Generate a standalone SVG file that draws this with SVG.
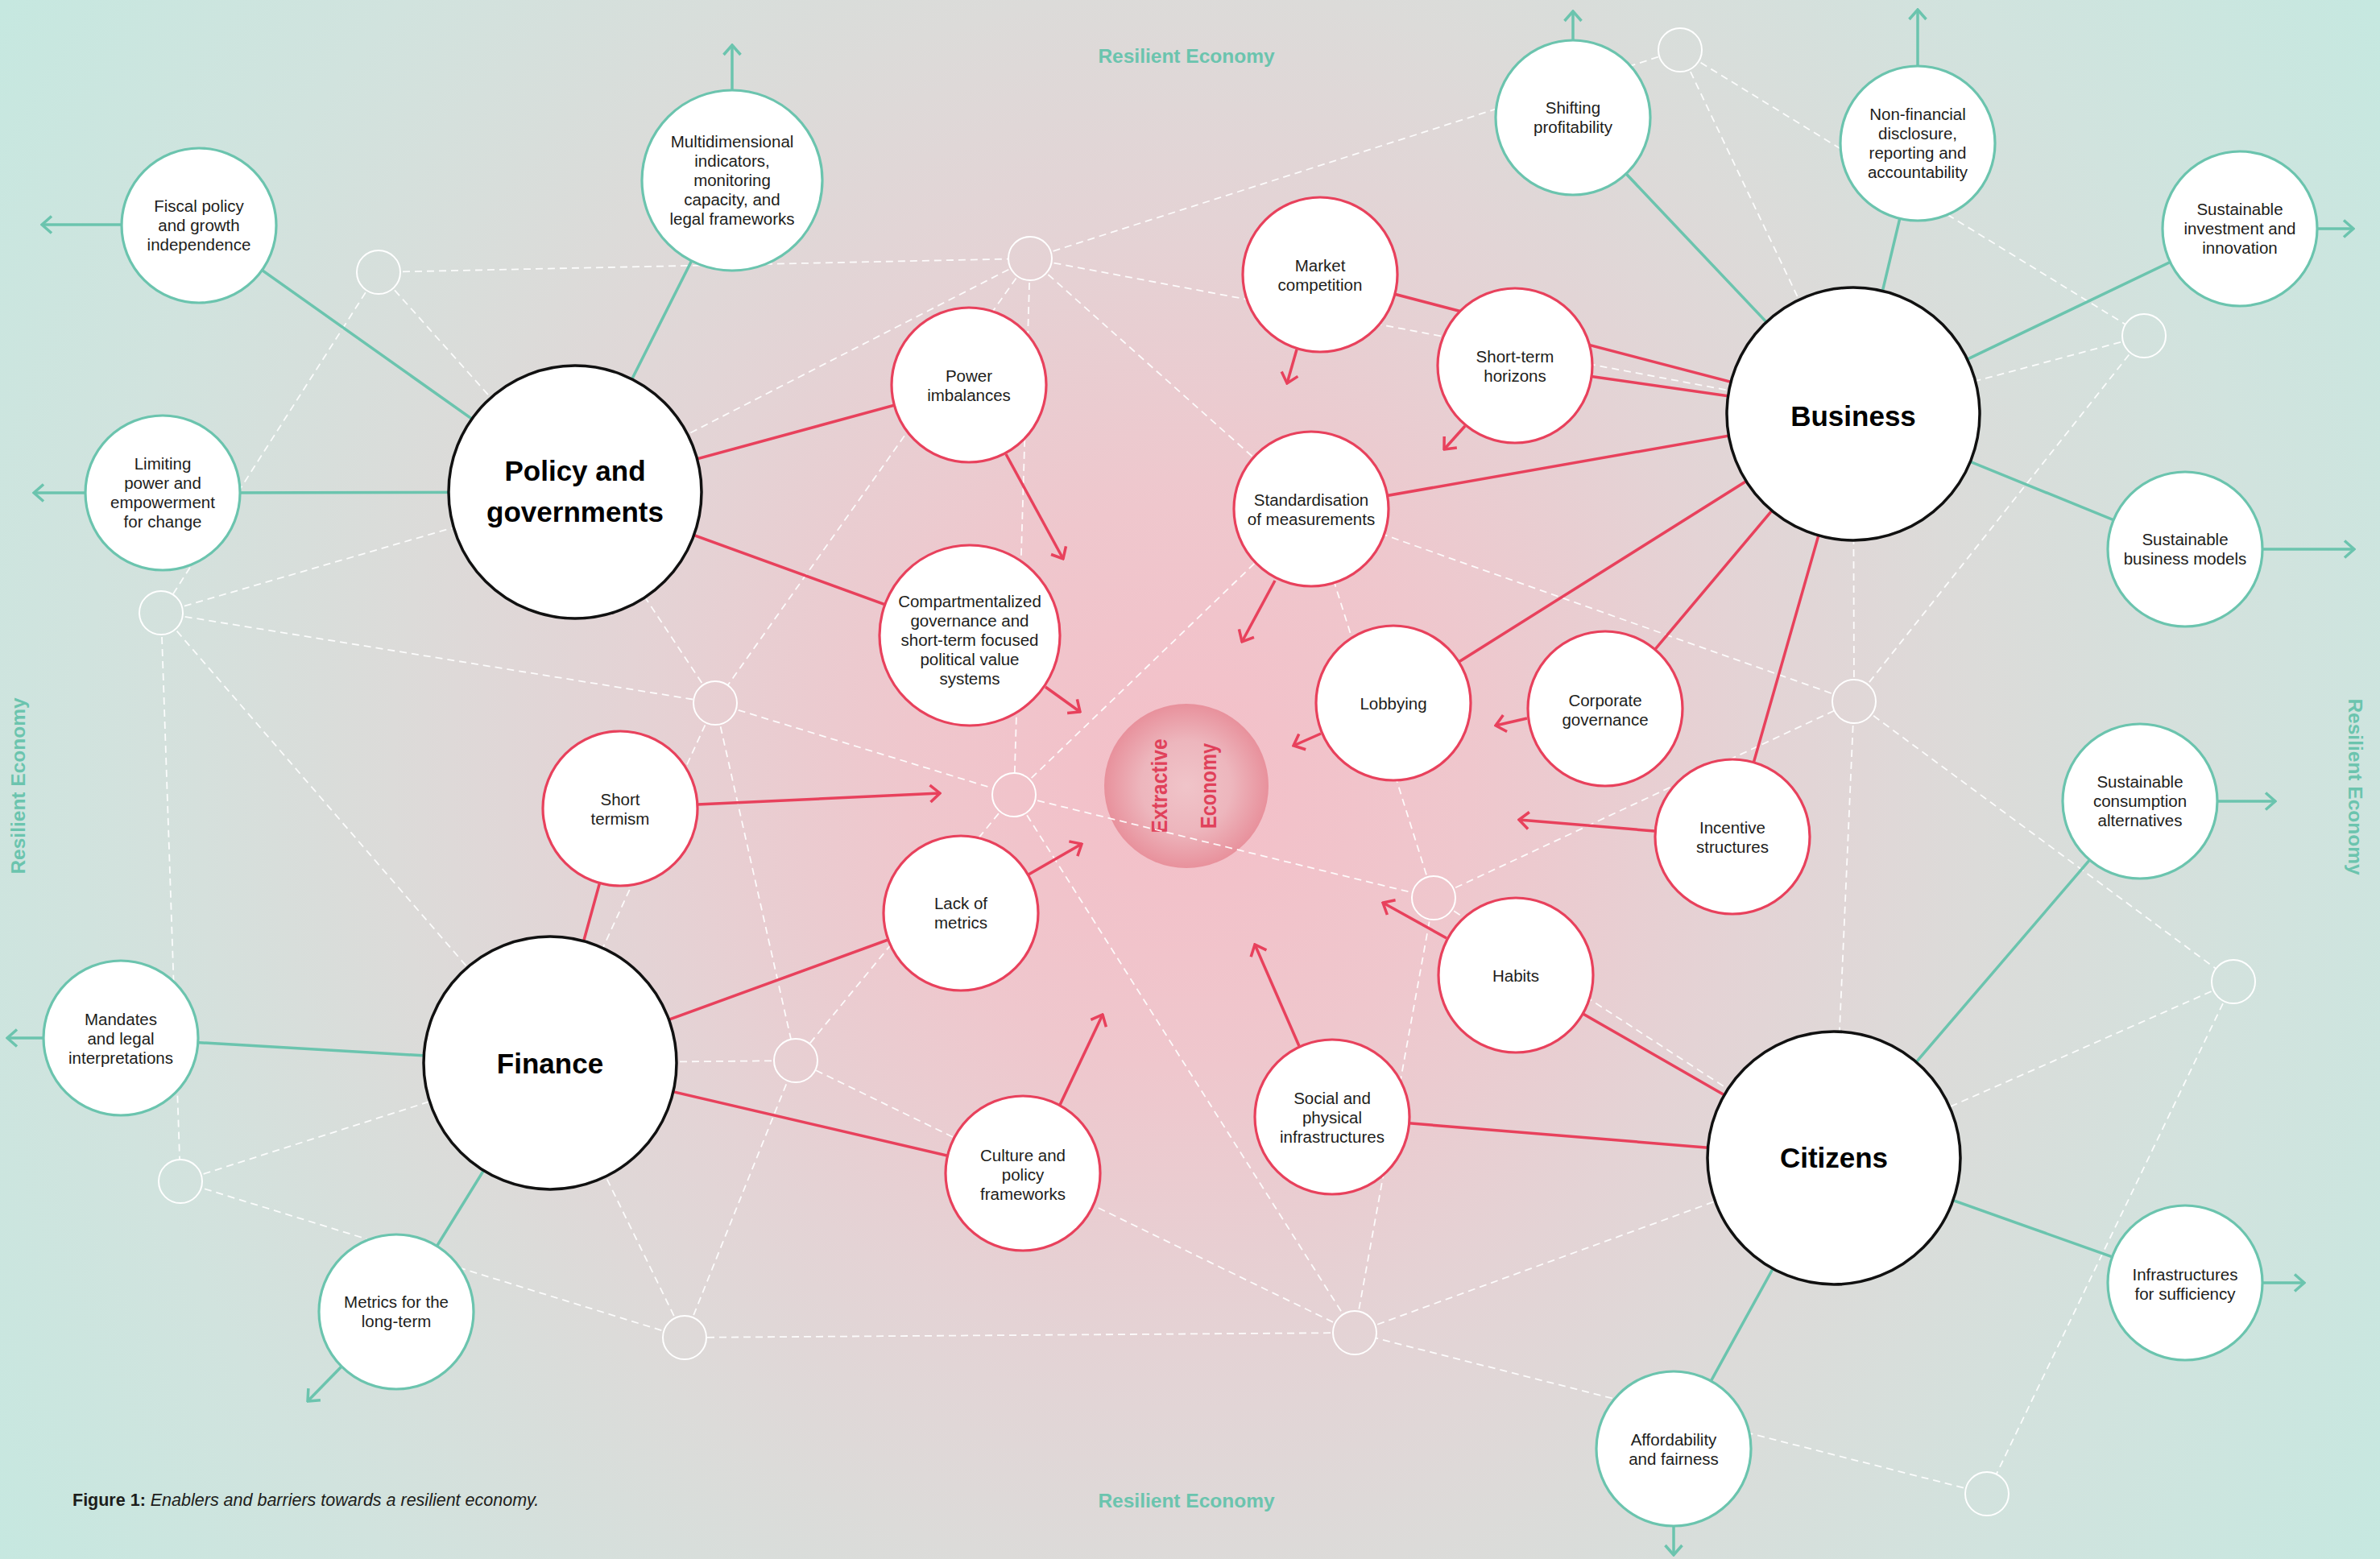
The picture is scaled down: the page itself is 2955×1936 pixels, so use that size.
<svg xmlns="http://www.w3.org/2000/svg" width="2955" height="1936" viewBox="0 0 2955 1936">
<defs>
<radialGradient id="bg" gradientUnits="userSpaceOnUse" cx="1473" cy="976" r="1760">
<stop offset="0" stop-color="#f4bfc8"/>
<stop offset="0.2" stop-color="#efc7cd"/>
<stop offset="0.4" stop-color="#e4d3d5"/>
<stop offset="0.56" stop-color="#dcdbd9"/>
<stop offset="0.78" stop-color="#d1e3de"/>
<stop offset="1" stop-color="#c6e8e0"/>
</radialGradient>
<radialGradient id="ex" cx="0.5" cy="0.5" r="0.5">
<stop offset="0" stop-color="#f0c4c9"/>
<stop offset="0.55" stop-color="#edb6bd"/>
<stop offset="1" stop-color="#e8919c"/>
</radialGradient>
<marker id="arR" viewBox="-15 -13 17 26" refX="0" refY="0" markerWidth="17" markerHeight="26" markerUnits="userSpaceOnUse" orient="auto">
<path d="M-12,-10.5 L0,0 L-12,10.5" fill="none" stroke="#e8415c" stroke-width="3.5"/>
</marker>
<marker id="arT" viewBox="-15 -13 17 26" refX="0" refY="0" markerWidth="17" markerHeight="26" markerUnits="userSpaceOnUse" orient="auto">
<path d="M-12,-10.5 L0,0 L-12,10.5" fill="none" stroke="#6bc4ae" stroke-width="3.5"/>
</marker>
<mask id="jm" maskUnits="userSpaceOnUse" x="0" y="0" width="2955" height="1936">
<rect width="2955" height="1936" fill="#fff"/>
<g fill="#000">
<circle cx="470" cy="338" r="27"/><circle cx="1279" cy="321" r="27"/><circle cx="2086" cy="62" r="27"/>
<circle cx="2662" cy="417" r="27"/><circle cx="200" cy="761" r="27"/><circle cx="888" cy="873" r="27"/>
<circle cx="1259" cy="987" r="27"/><circle cx="2302" cy="871" r="27"/><circle cx="1780" cy="1115" r="27"/>
<circle cx="988" cy="1317" r="27"/><circle cx="2773" cy="1219" r="27"/><circle cx="224" cy="1467" r="27"/>
<circle cx="850" cy="1661" r="27"/><circle cx="1682" cy="1655" r="27"/><circle cx="2467" cy="1855" r="27"/>
</g>
</mask>
<style>
.dash{fill:none;stroke:#ffffff;stroke-width:1.8;stroke-dasharray:9 6;opacity:0.9}
.jn circle{fill:none;stroke:#ffffff;stroke-width:2}
.tl{fill:none;stroke:#6bc4ae;stroke-width:3.5}
.rl{fill:none;stroke:#e8415c;stroke-width:3.5}
.ta{marker-end:url(#arT)}
.ra{marker-end:url(#arR)}
.hub circle{fill:#ffffff;stroke:#111111;stroke-width:3.5}
.en circle{fill:#ffffff;stroke:#6bc4ae;stroke-width:3.2}
.ba circle{fill:#ffffff;stroke:#e8415c;stroke-width:3.2}
text{font-family:"Liberation Sans",Arial,sans-serif;fill:#1d1d1b;text-anchor:middle}
.lb{font-size:20.5px}
.hl{font-size:35px;font-weight:bold;fill:#000000}
.re{font-size:24.5px;font-weight:bold;fill:#6bc4ae}
.xe{font-size:27px;font-weight:bold;fill:#e0415a}
.cap{font-size:21.5px;text-anchor:start}
</style>
</defs>
<rect width="2955" height="1936" fill="url(#bg)"/>

<g id="extractive-economy">
<circle cx="1473" cy="976" r="102" fill="url(#ex)"/>
<text class="xe" transform="translate(1449,976) rotate(-90)" textLength="117" lengthAdjust="spacingAndGlyphs">Extractive</text>
<text class="xe" transform="translate(1510,976) rotate(-90)" textLength="106" lengthAdjust="spacingAndGlyphs">Economy</text>
</g>

<g id="network" mask="url(#jm)">
<path class="dash" d="M470,338L1279,321M470,338L200,761M470,338L714,611M1279,321L2086,62M1279,321L2301,514M1279,321L714,611M1279,321L888,873M1279,321L1259,987M1279,321L1628,632M2086,62L2662,417M2086,62L2301,514M2662,417L2302,871M2662,417L2301,514M200,761L714,611M200,761L888,873M200,761L224,1467M200,761L683,1320M888,873L714,611M888,873L683,1320M888,873L988,1317M888,873L1259,987M1259,987L1780,1115M1259,987L1628,632M1259,987L988,1317M1259,987L1682,1655M1780,1115L1628,632M1780,1115L2302,871M1780,1115L1682,1655M1780,1115L2277,1438M2302,871L2301,514M2302,871L1628,632M2302,871L2277,1438M2302,871L2773,1219M2773,1219L2277,1438M2773,1219L2467,1855M2467,1855L1682,1655M1682,1655L850,1661M1682,1655L988,1317M1682,1655L2277,1438M850,1661L224,1467M850,1661L683,1320M850,1661L988,1317M224,1467L683,1320M988,1317L683,1320"/>
</g>
<g id="junctions" class="jn">
<circle cx="470" cy="338" r="27"/><circle cx="1279" cy="321" r="27"/><circle cx="2086" cy="62" r="27"/>
<circle cx="2662" cy="417" r="27"/><circle cx="200" cy="761" r="27"/><circle cx="888" cy="873" r="27"/>
<circle cx="1259" cy="987" r="27"/><circle cx="2302" cy="871" r="27"/><circle cx="1780" cy="1115" r="27"/>
<circle cx="988" cy="1317" r="27"/><circle cx="2773" cy="1219" r="27"/><circle cx="224" cy="1467" r="27"/>
<circle cx="850" cy="1661" r="27"/><circle cx="1682" cy="1655" r="27"/><circle cx="2467" cy="1855" r="27"/>
</g>

<g id="connectors">
<g class="tl">
<path d="M714,611L247,280M714,611L202,612M714,611L909,224M683,1320L150,1289M683,1320L492,1629M2301,514L1953,146M2301,514L2381,178M2301,514L2781,284M2301,514L2713,682M2277,1438L2657,995M2277,1438L2713,1593M2277,1438L2078,1799"/>
<path class="ta" d="M151,279L52,279"/>
<path class="ta" d="M106,612L42,612"/>
<path class="ta" d="M909,112L909,56"/>
<path class="ta" d="M1953,50L1953,14"/>
<path class="ta" d="M2381,82L2381,12"/>
<path class="ta" d="M2877,284L2922,284"/>
<path class="ta" d="M2808,682L2923,682"/>
<path class="ta" d="M2753,995L2825,995"/>
<path class="ta" d="M2808,1593L2861,1593"/>
<path class="ta" d="M2078,1895L2078,1931"/>
<path class="ta" d="M54,1289L9,1289"/>
<path class="ta" d="M424,1697L382,1740"/>
</g>
<g class="rl">
<path d="M714,611L1203,478M714,611L1204,789M683,1320L770,1004M683,1320L1193,1134M683,1320L1270,1457M2301,514L1639,341M2301,514L1881,454M2301,514L1628,632M2301,514L1730,873M2301,514L1993,880M2301,514L2151,1039M2277,1438L1882,1211M2277,1438L1654,1387"/>
<path class="ra" d="M866,999L1167,985"/>
<path class="ra" d="M1277,1086L1343,1048"/>
<path class="ra" d="M1316,1372L1369,1260"/>
<path class="ra" d="M1298,853L1341,884"/>
<path class="ra" d="M1249,564L1320,694"/>
<path class="ra" d="M1610,434L1598,476"/>
<path class="ra" d="M1819,529L1793,558"/>
<path class="ra" d="M1583,721L1542,797"/>
<path class="ra" d="M1640,911L1606,926"/>
<path class="ra" d="M1896,892L1857,901"/>
<path class="ra" d="M2054,1032L1886,1018"/>
<path class="ra" d="M1796,1165L1717,1121"/>
<path class="ra" d="M1613,1299L1558,1173"/>
</g>
</g>

<g id="policy-and-governments" class="hub"><circle cx="714" cy="611" r="157"/><text class="hl" x="714" y="597">Policy and</text><text class="hl" x="714" y="648">governments</text></g>
<g id="business" class="hub"><circle cx="2301" cy="514" r="157"/><text class="hl" x="2301" y="529">Business</text></g>
<g id="finance" class="hub"><circle cx="683" cy="1320" r="157"/><text class="hl" x="683" y="1333">Finance</text></g>
<g id="citizens" class="hub"><circle cx="2277" cy="1438" r="157"/><text class="hl" x="2277" y="1450">Citizens</text></g>

<g id="fiscal-policy" class="en"><circle cx="247" cy="280" r="96"/><text class="lb" x="247" y="263">Fiscal policy</text><text class="lb" x="247" y="287">and growth</text><text class="lb" x="247" y="311">independence</text></g>
<g id="limiting-power" class="en"><circle cx="202" cy="612" r="96"/><text class="lb" x="202" y="583">Limiting</text><text class="lb" x="202" y="607">power and</text><text class="lb" x="202" y="631">empowerment</text><text class="lb" x="202" y="655">for change</text></g>
<g id="multidimensional-indicators" class="en"><circle cx="909" cy="224" r="112"/><text class="lb" x="909" y="183">Multidimensional</text><text class="lb" x="909" y="207">indicators,</text><text class="lb" x="909" y="231">monitoring</text><text class="lb" x="909" y="255">capacity, and</text><text class="lb" x="909" y="279">legal frameworks</text></g>
<g id="shifting-profitability" class="en"><circle cx="1953" cy="146" r="96"/><text class="lb" x="1953" y="141">Shifting</text><text class="lb" x="1953" y="165">profitability</text></g>
<g id="non-financial-disclosure" class="en"><circle cx="2381" cy="178" r="96"/><text class="lb" x="2381" y="149">Non-financial</text><text class="lb" x="2381" y="173">disclosure,</text><text class="lb" x="2381" y="197">reporting and</text><text class="lb" x="2381" y="221">accountability</text></g>
<g id="sustainable-investment" class="en"><circle cx="2781" cy="284" r="96"/><text class="lb" x="2781" y="267">Sustainable</text><text class="lb" x="2781" y="291">investment and</text><text class="lb" x="2781" y="315">innovation</text></g>
<g id="sustainable-business-models" class="en"><circle cx="2713" cy="682" r="96"/><text class="lb" x="2713" y="677">Sustainable</text><text class="lb" x="2713" y="701">business models</text></g>
<g id="sustainable-consumption" class="en"><circle cx="2657" cy="995" r="96"/><text class="lb" x="2657" y="978">Sustainable</text><text class="lb" x="2657" y="1002">consumption</text><text class="lb" x="2657" y="1026">alternatives</text></g>
<g id="infrastructures-sufficiency" class="en"><circle cx="2713" cy="1593" r="96"/><text class="lb" x="2713" y="1590">Infrastructures</text><text class="lb" x="2713" y="1614">for sufficiency</text></g>
<g id="affordability-fairness" class="en"><circle cx="2078" cy="1799" r="96"/><text class="lb" x="2078" y="1795">Affordability</text><text class="lb" x="2078" y="1819">and fairness</text></g>
<g id="mandates" class="en"><circle cx="150" cy="1289" r="96"/><text class="lb" x="150" y="1273">Mandates</text><text class="lb" x="150" y="1297">and legal</text><text class="lb" x="150" y="1321">interpretations</text></g>
<g id="metrics-long-term" class="en"><circle cx="492" cy="1629" r="96"/><text class="lb" x="492" y="1624">Metrics for the</text><text class="lb" x="492" y="1648">long-term</text></g>

<g id="power-imbalances" class="ba"><circle cx="1203" cy="478" r="96"/><text class="lb" x="1203" y="474">Power</text><text class="lb" x="1203" y="498">imbalances</text></g>
<g id="market-competition" class="ba"><circle cx="1639" cy="341" r="96"/><text class="lb" x="1639" y="337">Market</text><text class="lb" x="1639" y="361">competition</text></g>
<g id="short-term-horizons" class="ba"><circle cx="1881" cy="454" r="96"/><text class="lb" x="1881" y="450">Short-term</text><text class="lb" x="1881" y="474">horizons</text></g>
<g id="standardisation" class="ba"><circle cx="1628" cy="632" r="96"/><text class="lb" x="1628" y="628">Standardisation</text><text class="lb" x="1628" y="652">of measurements</text></g>
<g id="compartmentalized-governance" class="ba"><circle cx="1204" cy="789" r="112"/><text class="lb" x="1204" y="754">Compartmentalized</text><text class="lb" x="1204" y="778">governance and</text><text class="lb" x="1204" y="802">short-term focused</text><text class="lb" x="1204" y="826">political value</text><text class="lb" x="1204" y="850">systems</text></g>
<g id="lobbying" class="ba"><circle cx="1730" cy="873" r="96"/><text class="lb" x="1730" y="881">Lobbying</text></g>
<g id="corporate-governance" class="ba"><circle cx="1993" cy="880" r="96"/><text class="lb" x="1993" y="877">Corporate</text><text class="lb" x="1993" y="901">governance</text></g>
<g id="incentive-structures" class="ba"><circle cx="2151" cy="1039" r="96"/><text class="lb" x="2151" y="1035">Incentive</text><text class="lb" x="2151" y="1059">structures</text></g>
<g id="habits" class="ba"><circle cx="1882" cy="1211" r="96"/><text class="lb" x="1882" y="1219">Habits</text></g>
<g id="social-physical-infrastructures" class="ba"><circle cx="1654" cy="1387" r="96"/><text class="lb" x="1654" y="1371">Social and</text><text class="lb" x="1654" y="1395">physical</text><text class="lb" x="1654" y="1419">infrastructures</text></g>
<g id="culture-policy-frameworks" class="ba"><circle cx="1270" cy="1457" r="96"/><text class="lb" x="1270" y="1442">Culture and</text><text class="lb" x="1270" y="1466">policy</text><text class="lb" x="1270" y="1490">frameworks</text></g>
<g id="lack-of-metrics" class="ba"><circle cx="1193" cy="1134" r="96"/><text class="lb" x="1193" y="1129">Lack of</text><text class="lb" x="1193" y="1153">metrics</text></g>
<g id="short-termism" class="ba"><circle cx="770" cy="1004" r="96"/><text class="lb" x="770" y="1000">Short</text><text class="lb" x="770" y="1024">termism</text></g>

<g id="labels">
<text class="re" x="1473" y="78">Resilient Economy</text>
<text class="re" x="1473" y="1872">Resilient Economy</text>
<text class="re" transform="translate(31,976) rotate(-90)">Resilient Economy</text>
<text class="re" transform="translate(2916,977) rotate(90)">Resilient Economy</text>
<text class="cap" x="90" y="1870"><tspan font-weight="bold">Figure 1:</tspan> <tspan font-style="italic">Enablers and barriers towards a resilient economy.</tspan></text>
</g>
</svg>
